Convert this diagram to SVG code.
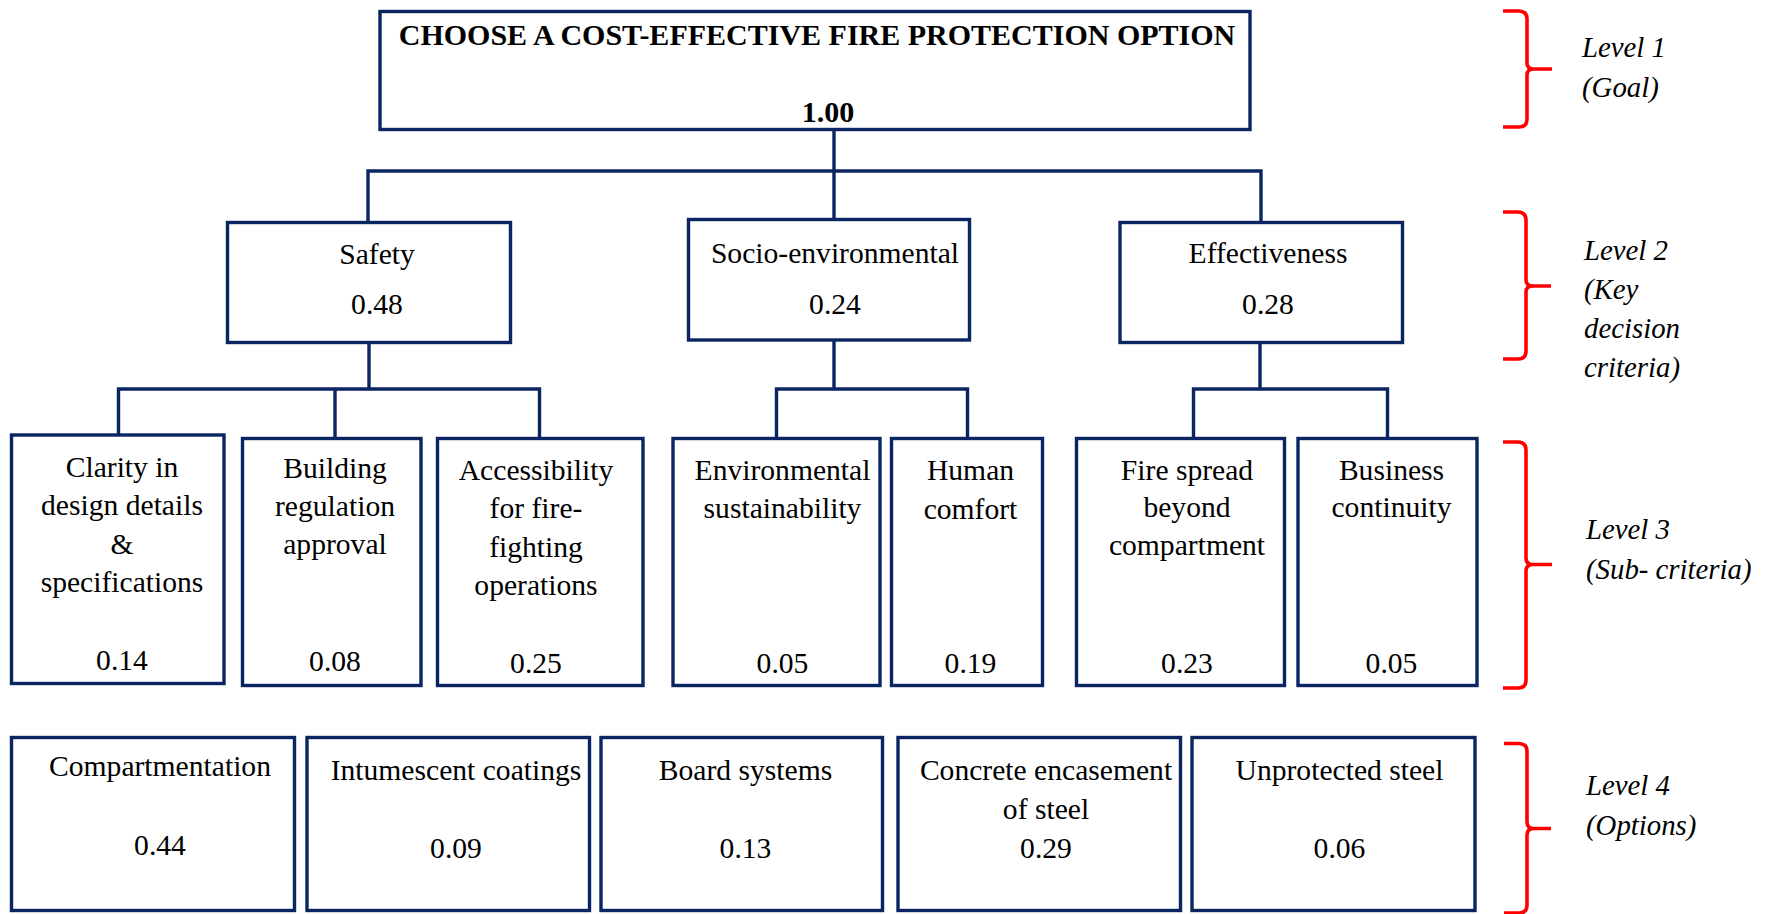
<svg xmlns="http://www.w3.org/2000/svg" width="1766" height="914" viewBox="0 0 1766 914">
  <style>
    .box { fill: #ffffff; stroke: #0b2562; stroke-width: 3.4; }
    .conn { fill: none; stroke: #0b2562; stroke-width: 3.4; stroke-linecap: square; }
    .brace { fill: none; stroke: #ff0000; stroke-width: 3.6; stroke-linecap: butt; stroke-linejoin: round; }
    text { font-family: "Liberation Serif", "Times New Roman", serif; font-size: 29.6px; fill: #000000; text-anchor: middle; }
    .title { font-weight: bold; font-size: 30px; }
    .lvl { font-style: italic; text-anchor: start; font-size: 28.8px; }
  </style>
  <rect width="1766" height="914" fill="#ffffff"/>

  <!-- connectors -->
  <g id="connectors" class="conn">
    <path d="M834,129 V171 M368,171 H1261 M368,171 V222 M834,171 V219 M1261,171 V222"/>
    <path d="M369,343 V389 M118.5,389 H539.5 M118.5,389 V435 M335,389 V438 M539.5,389 V438"/>
    <path d="M834,340 V389 M776.5,389 H967.5 M776.5,389 V438 M967.5,389 V438"/>
    <path d="M1260,343 V389 M1193.5,389 H1387.5 M1193.5,389 V438 M1387.5,389 V438"/>
  </g>

  <!-- level 1 -->
  <g id="goal">
    <rect class="box" x="380" y="11.5" width="870" height="118"/>
    <text class="title" x="817" y="45">CHOOSE A COST-EFFECTIVE FIRE PROTECTION OPTION</text>
    <text class="title" x="828" y="122">1.00</text>
  </g>

  <!-- level 2 -->
  <g id="safety">
    <rect class="box" x="227.5" y="222.5" width="283" height="120"/>
    <text x="377" y="264">Safety</text>
    <text x="377" y="314">0.48</text>
  </g>
  <g id="socio-environmental">
    <rect class="box" x="688.5" y="219.5" width="281" height="120.5"/>
    <text x="835" y="263">Socio-environmental</text>
    <text x="835" y="314">0.24</text>
  </g>
  <g id="effectiveness">
    <rect class="box" x="1120" y="222.5" width="282.5" height="120"/>
    <text x="1268" y="263">Effectiveness</text>
    <text x="1268" y="314">0.28</text>
  </g>

  <!-- level 3 -->
  <g id="clarity">
    <rect class="box" x="11.5" y="435" width="212.5" height="248.5"/>
    <text x="122" y="476.5">Clarity in</text>
    <text x="122" y="515">design details</text>
    <text x="122" y="553.5">&amp;</text>
    <text x="122" y="591.5">specifications</text>
    <text x="122" y="670">0.14</text>
  </g>
  <g id="building-regulation">
    <rect class="box" x="242.5" y="438.5" width="178.5" height="247"/>
    <text x="335" y="477.5">Building</text>
    <text x="335" y="516">regulation</text>
    <text x="335" y="554">approval</text>
    <text x="335" y="670.5">0.08</text>
  </g>
  <g id="accessibility">
    <rect class="box" x="437.5" y="438.5" width="205.5" height="247"/>
    <text x="536" y="479.5">Accessibility</text>
    <text x="536" y="518">for fire-</text>
    <text x="536" y="556.5">fighting</text>
    <text x="536" y="595">operations</text>
    <text x="536" y="673">0.25</text>
  </g>
  <g id="environmental">
    <rect class="box" x="673" y="438.5" width="207" height="247"/>
    <text x="782.5" y="479.5">Environmental</text>
    <text x="782.5" y="517.5">sustainability</text>
    <text x="782.5" y="672.5">0.05</text>
  </g>
  <g id="human-comfort">
    <rect class="box" x="891.5" y="438.5" width="151" height="247"/>
    <text x="970.5" y="480">Human</text>
    <text x="970.5" y="518.5">comfort</text>
    <text x="970.5" y="672.5">0.19</text>
  </g>
  <g id="fire-spread">
    <rect class="box" x="1076.5" y="438.5" width="208" height="247"/>
    <text x="1187" y="479.5">Fire spread</text>
    <text x="1187" y="517">beyond</text>
    <text x="1187" y="555">compartment</text>
    <text x="1187" y="672.5">0.23</text>
  </g>
  <g id="business-continuity">
    <rect class="box" x="1298" y="438.5" width="179" height="247"/>
    <text x="1391.5" y="479.5">Business</text>
    <text x="1391.5" y="517">continuity</text>
    <text x="1391.5" y="672.5">0.05</text>
  </g>

  <!-- level 4 -->
  <g id="compartmentation">
    <rect class="box" x="11.5" y="737.5" width="283" height="173"/>
    <text x="160" y="776">Compartmentation</text>
    <text x="160" y="855">0.44</text>
  </g>
  <g id="intumescent">
    <rect class="box" x="307" y="737.5" width="282.5" height="173"/>
    <text x="456" y="780">Intumescent coatings</text>
    <text x="456" y="858">0.09</text>
  </g>
  <g id="board-systems">
    <rect class="box" x="601" y="737.5" width="281.5" height="173"/>
    <text x="745.5" y="780">Board systems</text>
    <text x="745.5" y="858">0.13</text>
  </g>
  <g id="concrete-encasement">
    <rect class="box" x="898" y="737.5" width="282.5" height="173"/>
    <text x="1046" y="780">Concrete encasement</text>
    <text x="1046" y="819">of steel</text>
    <text x="1046" y="858">0.29</text>
  </g>
  <g id="unprotected-steel">
    <rect class="box" x="1192" y="737.5" width="283" height="173"/>
    <text x="1339.5" y="780">Unprotected steel</text>
    <text x="1339.5" y="858">0.06</text>
  </g>

  <!-- level braces and captions -->
  <g id="level-1">
    <path class="brace" d="M1503,11 L1519,11 Q1527,11.5 1527,19 L1527,63 Q1527,69 1534,69 L1552,69 M1534,69 Q1527,69 1527,75 L1527,119 Q1527,127 1519,127 L1503,127"/>
    <text class="lvl" x="1582" y="56.5">Level 1</text>
    <text class="lvl" x="1582" y="96.5">(Goal)</text>
  </g>
  <g id="level-2">
    <path class="brace" d="M1503,212 L1518,212 Q1526,212.5 1526,220 L1526,280 Q1526,286 1533,286 L1551,286 M1533,286 Q1526,286 1526,292 L1526,351 Q1526,359 1518,359 L1503,359"/>
    <text class="lvl" x="1584" y="260">Level 2</text>
    <text class="lvl" x="1584" y="299">(Key</text>
    <text class="lvl" x="1584" y="337.5">decision</text>
    <text class="lvl" x="1584" y="376.5">criteria)</text>
  </g>
  <g id="level-3">
    <path class="brace" d="M1503,442 L1518,442 Q1526,442.5 1526,450 L1526,558 Q1526,564.5 1533,564.5 L1552,564.5 M1533,564.5 Q1526,564.5 1526,571 L1526,680 Q1526,688 1518,688 L1503,688"/>
    <text class="lvl" x="1586" y="539">Level 3</text>
    <text class="lvl" x="1586" y="579">(Sub- criteria)</text>
  </g>
  <g id="level-4">
    <path class="brace" d="M1504,743.5 L1519,743.5 Q1527,744 1527,751 L1527,822 Q1527,828.5 1534,828.5 L1551,828.5 M1534,828.5 Q1527,828.5 1527,835 L1527,905 Q1527,913 1519,913 L1504,913"/>
    <text class="lvl" x="1586" y="795">Level 4</text>
    <text class="lvl" x="1586" y="835">(Options)</text>
  </g>
</svg>
